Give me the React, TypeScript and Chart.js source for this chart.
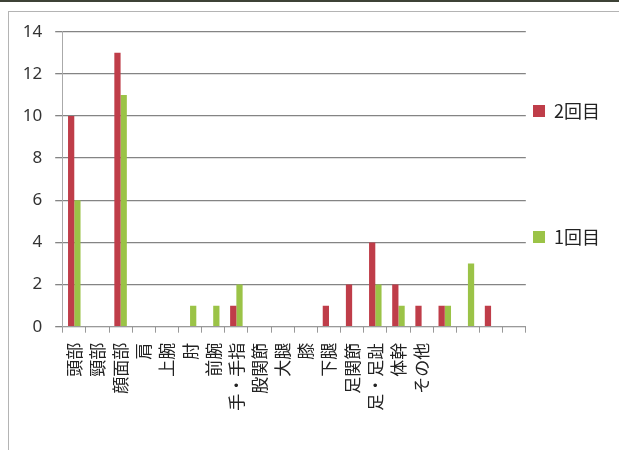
import React, { useEffect, useRef } from 'react';
import { Chart, registerables } from 'chart.js';

Chart.register(...registerables);

const categories = ['頭部', '頸部', '顔面部', '肩', '上腕', '肘', '前腕', '手・手指', '股関節', '大腿', '膝', '下腿', '足関節', '足・足趾', '体幹', 'その他', '', '', '', ''];
const secondRound = [10, 0, 13, 0, 0, 0, 0, 1, 0, 0, 0, 1, 2, 4, 2, 1, 1, 0, 1, 0];
const firstRound = [6, 0, 11, 0, 0, 1, 1, 2, 0, 0, 0, 0, 0, 2, 1, 0, 1, 3, 0, 0];
const seriesNames = ['2回目', '1回目'];
const yMin = 0;
const yMax = 14;
const yStep = 2;

const RED = '#BF3D49';
const GREEN = '#9BC347';

export default function App() {
  const canvasRef = useRef<HTMLCanvasElement | null>(null);

  useEffect(() => {
    if (!canvasRef.current) return;
    const spacer = () => ({
      text: '',
      fillStyle: 'rgba(0,0,0,0)',
      strokeStyle: 'rgba(0,0,0,0)',
      lineWidth: 0,
      hidden: false,
    });
    const chart = new Chart(canvasRef.current, {
      type: 'bar',
      data: {
        labels: categories,
        datasets: [
          { label: seriesNames[0], data: secondRound, backgroundColor: RED, borderWidth: 0 },
          { label: seriesNames[1], data: firstRound, backgroundColor: GREEN, borderWidth: 0 },
        ],
      },
      options: {
        animation: false,
        responsive: true,
        maintainAspectRatio: false,
        layout: { padding: { top: 31.7, right: 9, bottom: 0, left: 0 } },
        datasets: {
          bar: { categoryPercentage: 0.54, barPercentage: 1.0 },
        },
        scales: {
          x: {
            grid: {
              display: true,
              drawOnChartArea: false,
              drawTicks: true,
              tickLength: 6,
              color: '#999999',
              offset: true,
            },
            border: { display: true, color: '#9a9a9a', width: 1 },
            ticks: {
              autoSkip: false,
              minRotation: 90,
              maxRotation: 90,
              padding: 10,
              color: '#222222',
              font: { family: '"Noto Sans CJK JP", sans-serif', size: 17 },
            },
            afterFit: (scale: any) => {
              scale.height = 450 - 326.7;
            },
          },
          y: {
            min: yMin,
            max: yMax,
            ticks: {
              stepSize: yStep,
              padding: 13,
              color: '#333333',
              font: { family: '"Noto Sans", sans-serif', size: 17 },
            },
            grid: {
              color: '#848484',
              lineWidth: 1.3,
              tickLength: 7.5,
              drawTicks: true,
            },
            border: { display: true, color: '#aaaaaa', width: 1 },
            afterFit: (scale: any) => {
              scale.width = 62.7;
            },
          },
        },
        plugins: {
          tooltip: { enabled: false },
          legend: {
            position: 'right',
            align: 'start',
            title: {
              display: true,
              text: ' ',
              font: { size: 10, lineHeight: 1 },
              padding: { top: 2.7, bottom: 0 },
            },
            labels: {
              boxWidth: 12,
              boxHeight: 12,
              padding: 7.2,
              color: '#222222',
              font: { family: '"Noto Sans CJK JP", sans-serif', size: 18 },
              generateLabels: (c: any) => {
                const base = (Chart.defaults.plugins.legend.labels as any).generateLabels(c);
                return [spacer(), spacer(), base[0], spacer(), spacer(), spacer(), spacer(), base[1]];
              },
            },
          },
        },
      },
    } as any);
    return () => chart.destroy();
  }, []);

  return (
    <div style={{ position: 'absolute', left: 0, top: 0, width: 619, height: 450, overflow: 'hidden', background: '#ffffff' }}>
      <div style={{ position: 'absolute', left: 0, top: 0, width: 619, height: 2, background: '#3d4236' }} />
      <div style={{ position: 'absolute', left: 8, top: 11, width: 700, height: 600, border: '1px solid #b4b4b4' }} />
      <div style={{ position: 'absolute', left: 0, top: 0, width: 619, height: 450 }}>
        <canvas ref={canvasRef} />
      </div>
    </div>
  );
}
